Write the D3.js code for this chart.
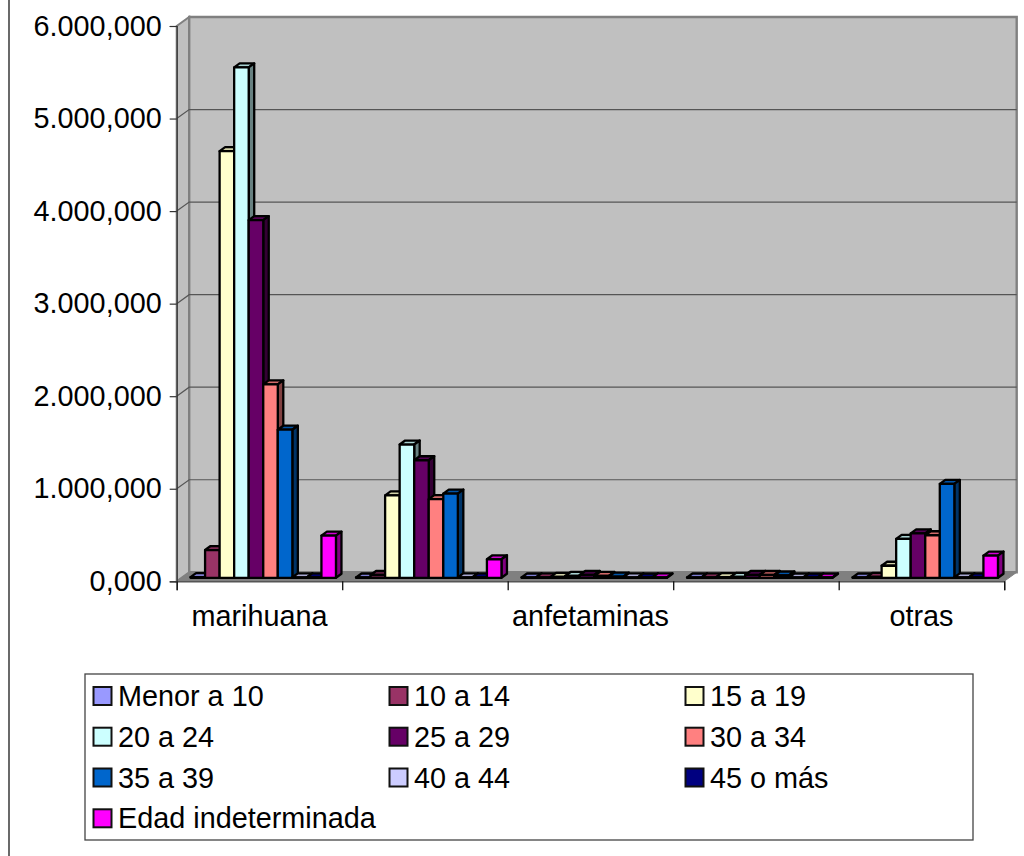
<!DOCTYPE html>
<html><head><meta charset="utf-8">
<script src="https://cdn.jsdelivr.net/npm/d3@7/dist/d3.min.js"></script>
<style>html,body{margin:0;padding:0;background:#fff}svg{display:block}text{font-family:"Liberation Sans",Arial,sans-serif;fill:#000}</style>
</head><body><svg id="c" width="1024" height="856"></svg>
<script>
const categoryLabels = ["marihuana", "", "anfetaminas", "", "otras"];
const seriesNames = ["Menor a 10","10 a 14","15 a 19","20 a 24","25 a 29","30 a 34","35 a 39","40 a 44","45 o más","Edad indeterminada"];
const seriesColors = ["#9999FF","#993366","#FFFFCC","#CCFFFF","#660066","#FF8080","#0066CC","#CCCCFF","#000080","#FF00FF"];
const valuesCat1 = [8, 300, 4610, 5515, 3865, 2090, 1600, 5, 5, 456];
const valuesCat2 = [3, 30, 890, 1440, 1270, 850, 910, 4, 4, 200];
const valuesCat3 = [3, 5, 10, 20, 30, 20, 12, 5, 3, 4];
const valuesCat4 = [3, 5, 8, 10, 30, 30, 25, 3, 3, 3];
const valuesCat5 = [3, 10, 130, 420, 480, 460, 1015, 5, 5, 240];
const allValues = [valuesCat1, valuesCat2, valuesCat3, valuesCat4, valuesCat5];
const yTicks = [0, 1000, 2000, 3000, 4000, 5000, 6000];

const svg = d3.select("#c");
const fontSize = "28.8px";
const depthX = 12.5, depthY = -9;
const barDX = 5.5, barDY = -4, barOX = 3.8, barOY = -3.5;
const plotL = 176.7, plotR = 1004.2, plotB = 581.3, plotT = 26;
const x0 = d3.scaleBand().domain(d3.range(categoryLabels.length)).range([plotL, plotR]);
const x1 = d3.scaleBand().domain(d3.range(seriesNames.length)).range([0, x0.bandwidth()]).paddingOuter(0.69).paddingInner(0);
const y = d3.scaleLinear().domain([0, 6000]).range([plotB, plotT]);
const loc = d3.formatLocale({decimal: ",", thousands: ".", grouping: [3], currency: ["", ""]});
const fmt = loc.format(",.3f");
const line = d3.line();
const poly = pts => line(pts) + "Z";

// outer frame line
svg.append("line").attr("x1", 9).attr("x2", 9).attr("y1", 0).attr("y2", 856).attr("stroke", "#444").attr("stroke-width", 1.6);

// walls
const g = svg.append("g");
g.append("path").attr("d", poly([[plotL, plotT],[plotL + depthX, plotT + depthY],[plotL + depthX, plotB + depthY],[plotL, plotB]]))
  .attr("fill", "#C0C0C0").attr("stroke", "#808080").attr("stroke-width", 2);
g.append("path").attr("d", poly([[plotL + depthX, plotT + depthY],[plotR + depthX, plotT + depthY],[plotR + depthX, plotB + depthY],[plotL + depthX, plotB + depthY]]))
  .attr("fill", "#C0C0C0").attr("stroke", "#808080").attr("stroke-width", 2.4);
g.append("path").attr("d", poly([[plotL, plotB],[plotL + depthX, plotB + depthY],[plotR + depthX, plotB + depthY],[plotR, plotB]]))
  .attr("fill", "#808080").attr("stroke", "#808080").attr("stroke-width", 1);

// gridlines on the walls
const gridTicks = yTicks.filter(t => t > 0 && t < 6000);
g.selectAll(".grid").data(gridTicks).join("path").attr("class", "grid").attr("fill", "none")
  .attr("stroke", "#555").attr("stroke-width", 1.2)
  .attr("d", d => line([[plotL, y(d)],[plotL + depthX, y(d) + depthY],[plotR + depthX, y(d) + depthY]]));

// y axis
const yAxis = d3.axisLeft(y).tickValues(yTicks).tickSize(7).tickPadding(8).tickFormat(fmt);
const ya = svg.append("g").attr("transform", `translate(${plotL},0)`).call(yAxis);
ya.selectAll("text").style("font-size", fontSize).attr("dy", "0.32em");
ya.selectAll("line").attr("stroke", "#333").attr("stroke-width", 1.2);
ya.select(".domain").attr("stroke", "#333").attr("stroke-width", 1.2);

// x axis
const boundaries = d3.scaleLinear().domain([0, categoryLabels.length]).range([plotL, plotR]);
const xTickAxis = d3.axisBottom(boundaries).tickValues(d3.range(categoryLabels.length + 1)).tickSize(9).tickFormat("");
const xa = svg.append("g").attr("transform", `translate(0,${plotB})`).call(xTickAxis);
xa.selectAll("line").attr("stroke", "#111").attr("stroke-width", 1.3);
xa.select(".domain").attr("stroke", "#555").attr("stroke-width", 1.4);
const xLabelAxis = d3.axisBottom(x0).tickSize(0).tickPadding(24).tickFormat(i => categoryLabels[i]);
const xl = svg.append("g").attr("transform", `translate(0,${plotB})`).call(xLabelAxis);
xl.select(".domain").remove();
xl.selectAll("text").style("font-size", fontSize).attr("dy", "0.71em");

// bars
const shade = (c, k) => d3.rgb(c).darker(k).formatHex();
allValues.forEach((vals, ci) => {
  const gc = svg.append("g").attr("transform", `translate(${x0(ci) + barOX},${barOY})`);
  const bars = gc.selectAll("g").data(vals.map((v, si) => ({v, si}))).join("g");
  const attrs = s => s.attr("stroke", "#000").attr("stroke-width", 2.3).attr("stroke-linejoin", "round");
  const w = x1.bandwidth();
  bars.append("path").call(attrs).attr("fill", d => d3.rgb(seriesColors[d.si]).darker(0.55).formatHex())
    .attr("d", d => { const a = x1(d.si), t = y(d.v);
      return poly([[a, t],[a + barDX, t + barDY],[a + w + barDX, t + barDY],[a + w, t]]); });
  bars.append("path").call(attrs).attr("fill", d => shade(seriesColors[d.si], 1.9))
    .attr("d", d => { const a = x1(d.si) + w, t = y(d.v), b = y(0);
      return poly([[a, t],[a + barDX, t + barDY],[a + barDX, b + barDY],[a, b]]); });
  bars.append("path").call(attrs).attr("fill", d => seriesColors[d.si])
    .attr("d", d => { const a = x1(d.si), t = y(d.v), b = y(0);
      return poly([[a, t],[a + w, t],[a + w, b],[a, b]]); });
});

// legend
const legendCols = [93, 389, 685], legendRows = [696, 736.7, 777.5, 818.3];
svg.append("rect").attr("x", 85).attr("y", 674).attr("width", 888).attr("height", 166)
  .attr("fill", "#fff").attr("stroke", "#444").attr("stroke-width", 1.3);
const lg = svg.selectAll(".lg").data(seriesNames).join("g").attr("class", "lg")
  .attr("transform", (d, i) => `translate(${legendCols[i % 3]},${legendRows[Math.floor(i / 3)]})`);
lg.append("rect").attr("x", 0.5).attr("y", -9).attr("width", 18).attr("height", 18)
  .attr("fill", (d, i) => seriesColors[i]).attr("stroke", "#111").attr("stroke-width", 2);
lg.append("text").attr("x", 25).attr("y", 0).attr("dy", "0.35em").style("font-size", fontSize).text(d => d);
</script></body></html>
